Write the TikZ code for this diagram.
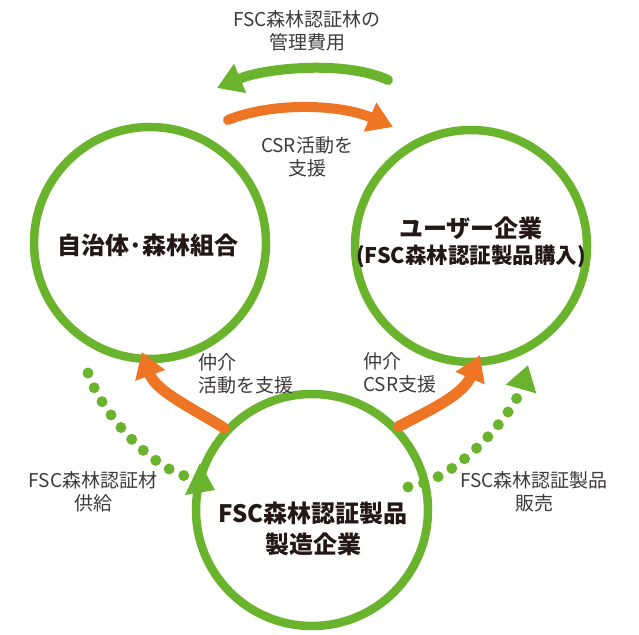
\documentclass[tikz,border=0pt]{standalone}
\usepackage{fontspec}
\setmainfont{Noto Sans CJK JP}
\usetikzlibrary{arrows.meta}
\definecolor{leaf}{HTML}{6AB42D}
\definecolor{ember}{HTML}{EE7523}
\definecolor{ink}{HTML}{231815}
\definecolor{note}{HTML}{3E3A39}
\begin{document}
\begin{tikzpicture}[x=1pt, y=-1pt,
    party/.style={draw=leaf, line width=8.5pt, circle, minimum size=232pt, inner sep=0pt},
    title/.style={text=ink, inner sep=0pt, align=center, font=\bfseries\fontsize{24}{29}\selectfont},
    remark/.style={text=note, inner sep=0pt, font=\fontsize{19}{23}\selectfont},
    flow/.style={line width=10pt, line cap=round, -{Triangle[width=30pt,length=25pt]}},
    supply/.style={leaf, line width=11pt, line cap=round, dash pattern=on 0pt off 16pt}]
  \useasboundingbox (0,0) rectangle (639,634);
  % three partners
  \node [party] (town) at (150,243) {};
  \node [party] (user) at (471,246) {};
  \node [party] (maker) at (312,510) {};
  \node [title] (towntext) at (148,245) {自治体{\kern-1pt}·{\kern-1pt}森林組合};
  \node [title] (usertext) at (471,242) {ユーザー企業\\[-3pt]{\fontsize{21.5}{29}\selectfont(FSC森林認証製品購入)}};
  \node [title] (makertext) at (313,529) {FSC森林認証製品\\[2pt]製造企業};
  % top exchange
  \coordinate (gs) at (388,80);
  \coordinate (ge) at (217,88);
  \coordinate (os) at (228,120);
  \coordinate (oe) at (393,127);
  \draw [flow, leaf] (gs) .. controls (345,60) and (265,68) .. (ge);
  \draw [flow, ember] (os) .. controls (272,102) and (340,104) .. (oe);
  \node [remark, align=center] (fee) at (307,31) {FSC森林認証林の\\管理費用};
  \node [remark, align=center] (csr) at (307,157) {CSR活動を\\支援};
  % supply lines
  \coordinate (ls) at (88,373);
  \coordinate (le) at (193,478);
  \coordinate (rs) at (408,487);
  \coordinate (re) at (528,365);
  \draw [supply] (ls) .. controls (100,410) and (150,470) .. (le);
  \fill [leaf] (185,495) -- (215,490) -- (200,463) -- cycle;
  \draw [supply, -{Triangle[width=30pt,length=25pt]}] (rs) .. controls (460,480) and (515,410) .. (re);
  \node [remark, align=center] (wood) at (93,492) {FSC森林認証材\\供給};
  \node [remark, align=center] (sale) at (534,492) {FSC森林認証製品\\販売};
  % mediation
  \draw [flow, ember, line width=11pt, shorten >=-12pt] (maker.137) .. controls +(-32,-20) and +(10,28) .. (town.268);
  \draw [flow, ember, line width=11pt, shorten >=-12pt] (maker.44) .. controls +(35,-18) and +(-12,28) .. (user.272);
  \node [remark, align=left, anchor=west] (midl) at (198,374) {仲介\\活動を支援};
  \node [remark, align=left, anchor=west] (midr) at (363,373) {仲介\\CSR支援};
\end{tikzpicture}
\end{document}
